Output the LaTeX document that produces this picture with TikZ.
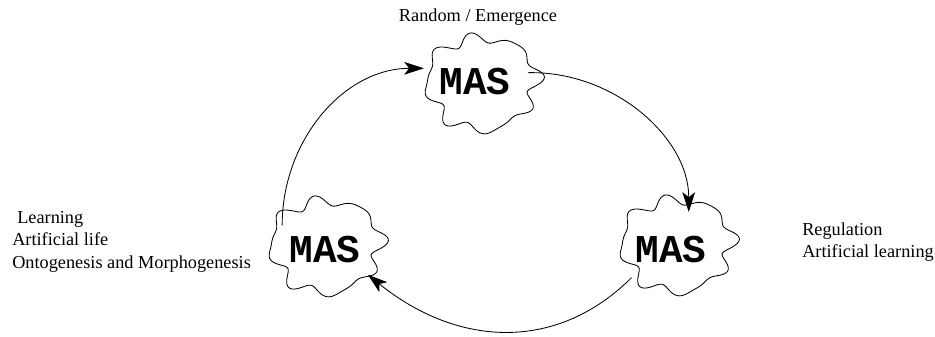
\documentclass[tikz,border=0pt]{standalone}
\usepackage{fontspec}
\setmainfont{Liberation Serif}
\setmonofont{Liberation Mono}
\usetikzlibrary{arrows.meta, shapes.geometric, calc}
\tikzset{
  mas/.style={ellipse, minimum width=2.7cm, minimum height=2cm, inner sep=0pt,
    font=\ttfamily\bfseries\fontsize{28}{28}\selectfont},
  lbl/.style={anchor=base west, inner sep=0pt, font=\fontsize{13}{15}\selectfont},
  conn/.style={-{Stealth[length=14pt, width=9pt, inset=3.5pt]}, line width=0.6pt},
  blobline/.style={line width=0.6pt}
}
\begin{document}
\begin{tikzpicture}[x=0.025cm, y=0.025cm]
  \useasboundingbox (0,0) rectangle (935,336);
  % agents
  \node[mas] (top) at (475,254) {MAS};
  \node[mas] (left) at (325,86) {MAS};
  \node[mas] (right) at (671,86) {MAS};
  % wavy outlines
  \foreach \n/\dx/\dy in {top/7/-1, left/1/4, right/6/5}
    \draw[blobline, shift={($(\n.center)+(\dx,\dy)$)}] plot[domain=0:360, samples=181, smooth cycle]
      ({55*(1+0.09*sin(8*\x+20)+0.05*sin(11*\x+40)+0.03*sin(3*\x))*cos(\x)},
       {46*(1+0.09*sin(8*\x+20)+0.05*sin(11*\x+40)+0.03*sin(3*\x))*sin(\x)});
  % labels
  \node[lbl, anchor=base] (rand) at (478,314) {Random / Emergence};
  \node[lbl] (learn) at (17,112) {Learning};
  \node[lbl] (alife) at (12,90) {Artificial life};
  \node[lbl] (onto) at (12,68) {Ontogenesis and Morphogenesis};
  \node[lbl] (reg) at (802,100) {Regulation};
  \node[lbl] (alearn) at (802,78) {Artificial learning};
  % cycle
  \draw[conn] (left.150) .. controls +(0,85) and +(-80,0) .. (top.165);
  \draw[conn] (top.10) .. controls +(85,2) and +(0,75) .. (right.65);
  \draw[conn] (right.215) .. controls +(-73,-73) and +(92,-74) .. (left.-30);
\end{tikzpicture}
\end{document}
